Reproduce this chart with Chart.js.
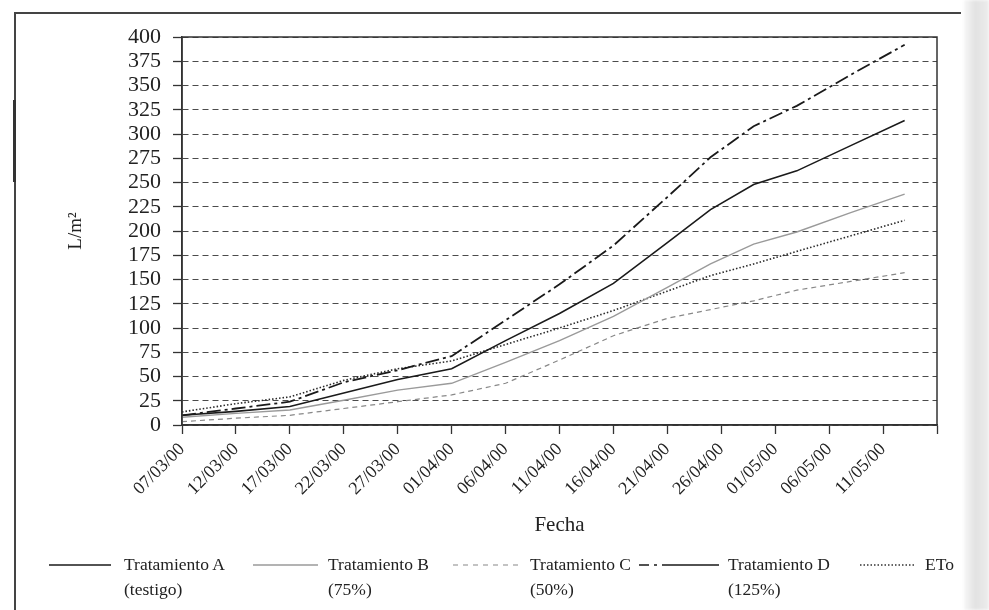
<!DOCTYPE html>
<html>
<head>
<meta charset="utf-8">
<script src="https://cdn.jsdelivr.net/npm/chart.js@4.4.0/dist/chart.umd.min.js"></script>
<style>
  html, body { margin: 0; padding: 0; background: #fff; }
  #wrap { position: relative; width: 989px; height: 610px; overflow: hidden; background: #fff; }
  #chart { position: absolute; left: 0; top: 0; }
  .frame { position: absolute; background: #444; }
  .edge { position: absolute; left: 964px; top: 0; width: 25px; height: 610px;
          background: linear-gradient(to right, #f7f7f7, #e2e2e2 45%, #ececec); filter: blur(1.5px); }
  .leg { position: absolute; font-family: "Liberation Serif", serif; font-size: 17.5px;
         line-height: 25px; color: #222; top: 552px; white-space: nowrap; }
  .sample { position: absolute; top: 560px; height: 10px; }
</style>
</head>
<body>
<div id="wrap">
  <canvas id="chart" width="989" height="610"></canvas>

  <div class="frame" style="left:14px; top:12px; width:947px; height:1.5px;"></div>
  <div class="frame" style="left:14px; top:12px; width:1.5px; height:598px;"></div>
  <div class="frame" style="left:13px; top:100px; width:3px; height:82px; background:#333;"></div>
  <div class="edge"></div>

  <svg class="sample" style="left:49px;" width="62" height="10"><line x1="0" y1="5" x2="62" y2="5" stroke="#1a1a1a" stroke-width="1.6"/></svg>
  <div class="leg" style="left:124px;">Tratamiento A<br>(testigo)</div>

  <svg class="sample" style="left:253px;" width="65" height="10"><line x1="0" y1="5" x2="65" y2="5" stroke="#9a9a9a" stroke-width="1.6"/></svg>
  <div class="leg" style="left:328px;">Tratamiento B<br>(75%)</div>

  <svg class="sample" style="left:453px;" width="70" height="10"><line x1="0" y1="5" x2="70" y2="5" stroke="#888" stroke-width="1.2" stroke-dasharray="5 5"/></svg>
  <div class="leg" style="left:530px;">Tratamiento C<br>(50%)</div>

  <svg class="sample" style="left:639px;" width="80" height="10"><line x1="0" y1="5" x2="80" y2="5" stroke="#1a1a1a" stroke-width="1.6" stroke-dasharray="10 5 3 5 60"/></svg>
  <div class="leg" style="left:728px;">Tratamiento D<br>(125%)</div>

  <svg class="sample" style="left:860px;" width="56" height="10"><line x1="0" y1="5" x2="56" y2="5" stroke="#333" stroke-width="1.4" stroke-dasharray="1.5 2"/></svg>
  <div class="leg" style="left:925px;">ETo</div>
</div>

<script>
// Days counted from 07/03/2000 (day 0) and cumulative water (L/m²)
const days   = [0, 5, 10, 15, 20, 25, 30, 35, 40, 45, 49, 53, 57, 62, 67];
const tratA  = [10, 14, 19, 33, 47, 58, 87, 115, 146, 188, 222, 248, 262, 288, 314];
const tratB  = [8, 12, 15.5, 25.5, 36, 43, 64.5, 87, 112, 142, 166, 186.5, 199, 219, 238];
const tratC  = [3.5, 7, 10, 17, 24, 31, 43, 67, 92, 110, 119, 128, 139, 148, 157];
const tratD  = [10, 17, 24, 44, 56.5, 71, 108, 145, 185, 235, 276, 308, 329, 361, 392];
const eto    = [13.5, 22, 29, 46, 58, 66, 83, 100, 118, 138, 154, 166, 179, 195, 211];

const startDate = new Date(2000, 2, 7);
const tickDays  = [0, 5, 10, 15, 20, 25, 30, 35, 40, 45, 50, 55, 60, 65];
const pad2 = n => String(n).padStart(2, '0');
function dayLabel(d) {
  const dt = new Date(startDate.getFullYear(), startDate.getMonth(), startDate.getDate() + d);
  return pad2(dt.getDate()) + '/' + pad2(dt.getMonth() + 1) + '/' + pad2(dt.getFullYear() % 100);
}
const tickLabels = tickDays.map(dayLabel);

const pts = vals => days.map((d, i) => ({ x: d, y: vals[i] }));

Chart.defaults.font.family = '"Liberation Serif", "Times New Roman", serif';
Chart.defaults.color = '#222';

// solid frame around the plotting area
const frameEdges = {
  id: 'frameEdges',
  afterDraw(chart) {
    const { ctx, chartArea: a } = chart;
    ctx.save();
    ctx.setLineDash([]);
    ctx.strokeStyle = '#333';
    ctx.lineWidth = 1.5;
    ctx.strokeRect(a.left, a.top, a.right - a.left, a.bottom - a.top);
    ctx.restore();
  }
};

new Chart(document.getElementById('chart'), {
  type: 'line',
  data: {
    datasets: [
      { label: 'Tratamiento A (testigo)', data: pts(tratA), borderColor: '#1a1a1a', borderWidth: 1.6 },
      { label: 'Tratamiento B (75%)', data: pts(tratB), borderColor: '#9a9a9a', borderWidth: 1.4 },
      { label: 'Tratamiento C (50%)', data: pts(tratC), borderColor: '#888', borderWidth: 1.2, borderDash: [5, 4] },
      { label: 'Tratamiento D (125%)', data: pts(tratD), borderColor: '#1a1a1a', borderWidth: 1.8, borderDash: [14, 4, 3, 4] },
      { label: 'ETo', data: pts(eto), borderColor: '#2a2a2a', borderWidth: 1.6, borderDash: [1.5, 2] }
    ]
  },
  options: {
    responsive: false,
    animation: false,
    devicePixelRatio: 1,
    elements: { point: { radius: 0 }, line: { tension: 0, fill: false } },
    layout: { padding: { left: 0, right: 52, top: 37, bottom: 70 } },
    plugins: { legend: { display: false }, tooltip: { enabled: false } },
    scales: {
      x: {
        type: 'linear',
        min: 0, max: 70,
        afterBuildTicks(scale) {
          scale.ticks = tickDays.concat([70]).map(v => ({ value: v }));
        },
        afterFit(scale) { scale.height = 115; },
        ticks: {
          autoSkip: false,
          maxRotation: 45, minRotation: 45,
          padding: 5,
          font: { size: 18 },
          color: '#222',
          callback: v => { const i = tickDays.indexOf(v); return i >= 0 ? tickLabels[i] : ''; }
        },
        grid: { drawOnChartArea: false, drawTicks: true, tickLength: 9, tickColor: '#333', tickWidth: 1.3 },
        border: { display: true, color: '#333', width: 1.5 },
        title: { display: true, text: 'Fecha', font: { size: 21 }, color: '#222', padding: { top: 0, bottom: 2 } }
      },
      y: {
        min: 0, max: 400,
        afterFit(scale) { scale.width = 182; },
        ticks: { stepSize: 25, autoSkip: false, padding: 12, font: { size: 22, lineHeight: 1 }, color: '#222' },
        grid: {
          color: 'rgba(55,55,55,0.9)', lineWidth: 1,
          drawTicks: true, tickLength: 9, tickColor: '#333', tickWidth: 1.3, tickBorderDash: []
        },
        border: { display: true, color: '#333', width: 1.5, dash: [6, 4] },
        title: { display: true, text: 'L/m²', font: { size: 19 }, color: '#222', padding: { top: 65, bottom: 0 } }
      }
    }
  },
  plugins: [frameEdges]
});
</script>
</body>
</html>
